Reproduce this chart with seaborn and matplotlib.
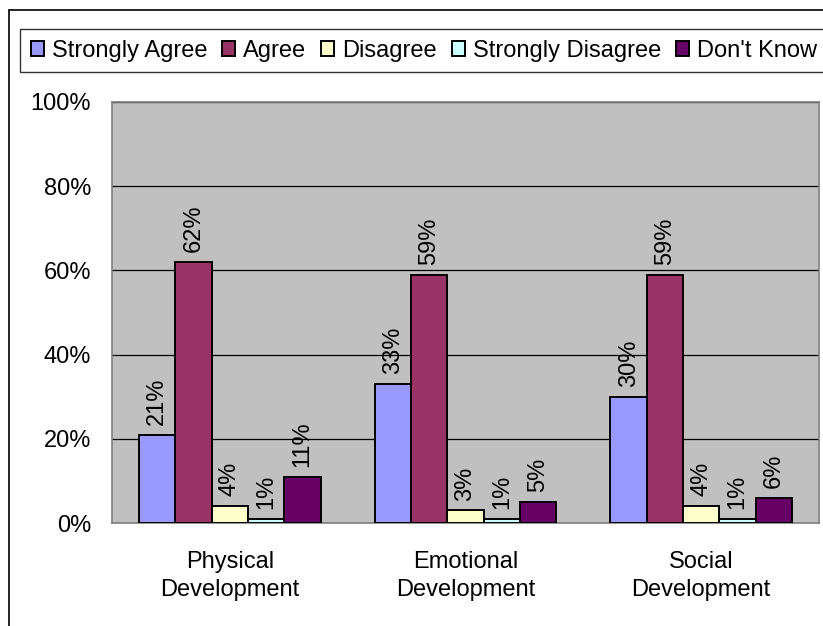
import matplotlib
matplotlib.use("Agg")
import matplotlib.pyplot as plt
from matplotlib.lines import Line2D
import pandas as pd
import seaborn as sns

# Survey results (percent of respondents)
categories = ["Physical\nDevelopment", "Emotional\nDevelopment", "Social\nDevelopment"]
responses = ["Strongly Agree", "Agree", "Disagree", "Strongly Disagree", "Don't Know"]
strongly_agree = [21, 33, 30]
agree = [62, 59, 59]
disagree = [4, 3, 4]
strongly_disagree = [1, 1, 1]
dont_know = [11, 5, 6]
y_ticks = [0, 20, 40, 60, 80, 100]

colors = ["#9999FF", "#993366", "#FFFFCC", "#CCFFFF", "#660066"]

series = [strongly_agree, agree, disagree, strongly_disagree, dont_know]
rows = []
for resp, vals in zip(responses, series):
    for cat, v in zip(categories, vals):
        rows.append({"Category": cat, "Response": resp, "Value": v})
df = pd.DataFrame(rows)

sns.set_style("white")
plt.rcParams["font.family"] = ["Liberation Sans", "DejaVu Sans"]
plt.rcParams["text.color"] = "black"
plt.rcParams["xtick.labelcolor"] = "black"
plt.rcParams["ytick.labelcolor"] = "black"
FS = 17

fig = plt.figure(figsize=(8.23, 6.26), dpi=100)
ax = fig.add_axes([112 / 823, 103 / 626, 707 / 823, 421 / 626])
ax.set_facecolor("#C0C0C0")

sns.barplot(data=df, x="Category", y="Value", hue="Response",
            hue_order=responses, order=categories, palette=colors,
            saturation=1, edgecolor="black", linewidth=1.4, width=0.77,
            gap=0, errorbar=None, ax=ax, zorder=3)

# Value labels above each bar, rotated
for container, vals in zip(ax.containers, series):
    ax.bar_label(container, labels=[f"{v}%" for v in vals], rotation=90,
                 padding=7, fontsize=FS, color="black")

ax.set_ylim(0, 100)
ax.set_xlim(-0.5, 2.5)
ax.set_yticks(y_ticks)
ax.set_yticklabels([f"{t}%" for t in y_ticks], fontsize=FS, color="black")
ax.tick_params(axis="y", length=0, pad=15)
ax.tick_params(axis="x", length=0, pad=20, labelsize=FS, labelcolor="black")
for lbl in ax.get_xticklabels():
    lbl.set_linespacing(1.35)
ax.set_xlabel("")
ax.set_ylabel("")
ax.yaxis.grid(True, color="#000000", linewidth=0.9, zorder=0)
ax.set_axisbelow(True)
for sp in ax.spines.values():
    sp.set_color("#808080")
    sp.set_linewidth(1.2)

handles, labels = ax.get_legend_handles_labels()
ax.get_legend().remove()
leg = fig.legend(handles, labels, loc="upper left",
                 bbox_to_anchor=(20 / 823, 1 - 29 / 626), ncol=5,
                 fontsize=FS, frameon=True, fancybox=False,
                 handlelength=0.55, handleheight=0.6, handletextpad=0.35,
                 columnspacing=0.62, borderpad=0.45, borderaxespad=0)
leg.get_frame().set_edgecolor("black")
leg.get_frame().set_linewidth(1.0)
leg.get_frame().set_boxstyle("square", pad=0)
for t in leg.get_texts():
    t.set_color("black")

# Chart-area border (left and top edges)
fig.add_artist(Line2D([9 / 823, 9 / 823], [0, 1 - 10 / 626],
                      transform=fig.transFigure, color="black", lw=1.2))
fig.add_artist(Line2D([9 / 823, 1], [1 - 10 / 626, 1 - 10 / 626],
                      transform=fig.transFigure, color="black", lw=1.2))

fig.savefig("out.png", dpi=100, facecolor="white")
